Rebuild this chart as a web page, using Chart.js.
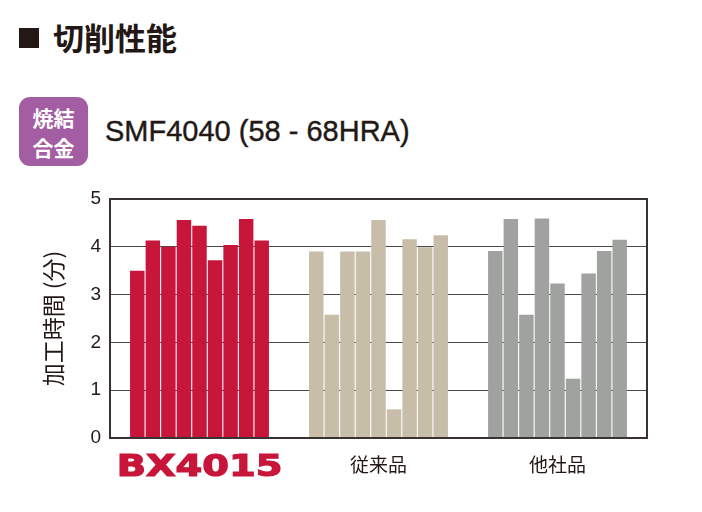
<!DOCTYPE html>
<html>
<head>
<meta charset="utf-8">
<script src="https://cdn.jsdelivr.net/npm/chart.js@4"></script>
<style>
  html, body { margin: 0; padding: 0; background: #fff; }
  body { width: 702px; height: 512px; position: relative; overflow: hidden; }
  #chart { position: absolute; left: 0; top: 0; }
  .sq { position: absolute; left: 19px; top: 28px; width: 20px; height: 20px; background: #231815; }
  .ttl { position: absolute; left: 53px; top: 21px; font: bold 31px/31px "Noto Sans CJK JP"; color: #231815; }
  .badge { position: absolute; left: 19px; top: 97px; width: 69px; height: 69px; border-radius: 11px;
    background: #a35da2; color: #fff; font: bold 21px/30px "Noto Sans CJK JP"; text-align: center;
    padding-top: 5px; box-sizing: border-box; }
  .sub { position: absolute; left: 105px; top: 117px; font: 29px/29px "Liberation Sans", Arial, sans-serif;
    color: #231815; -webkit-text-stroke: 0.4px #231815; }
</style>
</head>
<body>
<div class="sq"></div>
<div class="ttl">切削性能</div>
<div class="badge">焼結<br>合金</div>
<div class="sub">SMF4040 (58 - 68HRA)</div>
<canvas id="chart" width="702" height="512"></canvas>
<script>
// 値は図から読み取り（加工時間・分）
const categories = ['BX4015', '従来品', '他社品'];
const bx4015 = [3.5, 4.13, 4.0, 4.56, 4.44, 3.72, 4.04, 4.58, 4.13];
const conventional = [3.9, 2.58, 3.9, 3.9, 4.56, 0.6, 4.16, 3.99, 4.24];
const competitor = [3.91, 4.58, 2.58, 4.59, 3.23, 1.24, 3.44, 3.91, 4.15];
const yTicks = [0, 1, 2, 3, 4, 5];
const groupColors = ['#c8153a', '#c8bda9', '#a0a2a0'];

const datasets = bx4015.map((_, i) => ({
  label: 'No.' + (i + 1),
  data: [bx4015[i], conventional[i], competitor[i]],
  backgroundColor: groupColors,
  borderWidth: 0,
  barPercentage: 0.93,
  categoryPercentage: 0.782
}));

const framePlugin = {
  id: 'frame',
  afterDraw(chart) {
    const { ctx, chartArea: a } = chart;
    ctx.save();
    ctx.strokeStyle = '#3a3133';
    ctx.lineWidth = 2;
    ctx.strokeRect(a.left, a.top, a.right - a.left, a.bottom - a.top);
    ctx.restore();
  }
};

// BX4015 ロゴ風ラベル（横長の太字）
const logoPlugin = {
  id: 'logo',
  afterDraw(chart) {
    const { ctx, chartArea: a } = chart;
    const x = chart.scales.x.getPixelForValue(0);
    ctx.save();
    ctx.translate(x, a.bottom + 38);
    ctx.scale(1.28, 1);
    ctx.font = 'bold 30px "DejaVu Sans"';
    ctx.textAlign = 'center';
    ctx.textBaseline = 'alphabetic';
    ctx.fillStyle = '#c8153a';
    ctx.strokeStyle = '#c8153a';
    ctx.lineWidth = 1.2;
    ctx.fillText(categories[0], 0, 0);
    ctx.strokeText(categories[0], 0, 0);
    ctx.restore();
  }
};

new Chart(document.getElementById('chart').getContext('2d'), {
  type: 'bar',
  data: { labels: categories, datasets },
  plugins: [framePlugin, logoPlugin],
  options: {
    responsive: false, animation: false,
    layout: { padding: { left: 0, top: 199, right: 55, bottom: 0 } },
    plugins: { legend: { display: false }, tooltip: { enabled: false } },
    scales: {
      x: {
        afterFit: (s) => { s.height = 74; },
        grid: { display: false, drawTicks: false },
        border: { display: false },
        ticks: {
          padding: 15,
          color: '#231815',
          font: { family: '"Noto Sans CJK JP"', size: 19 },
          callback: (v, i) => (i === 0 ? '' : categories[i])
        }
      },
      y: {
        min: 0, max: 5,
        afterFit: (s) => { s.width = 110; },
        afterBuildTicks: (s) => { s.ticks = yTicks.map(v => ({ value: v })); },
        grid: { color: (c) => (c.tick && (c.tick.value === 0 || c.tick.value === 5) ? 'rgba(0,0,0,0)' : '#4a4a4a'), lineWidth: 1, drawTicks: false },
        border: { display: false },
        ticks: {
          padding: 9,
          color: '#231815',
          font: { family: '"Liberation Sans", Arial, sans-serif', size: 19 }
        },
        title: {
          display: true,
          text: '加工時間 (分)',
          color: '#231815',
          font: { family: '"Noto Sans CJK JP"', size: 23 },
          padding: { top: 39, bottom: 0 }
        }
      }
    }
  }
});
</script>
</body>
</html>
